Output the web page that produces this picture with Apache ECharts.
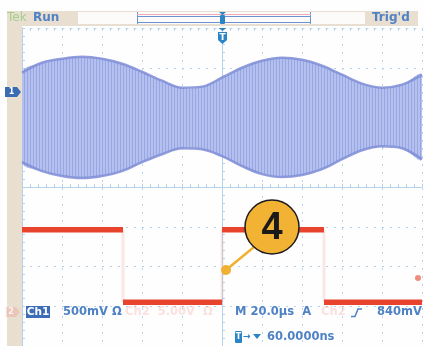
<!DOCTYPE html>
<html><head><meta charset="utf-8">
<script src="https://cdn.jsdelivr.net/npm/echarts@6/dist/echarts.min.js"></script>
<style>html,body{margin:0;padding:0;background:#fff;}#c{width:424px;height:346px;}</style>
</head><body><div id="c"></div>
<script>
// time axis (µs), 20 µs/div
const times = [-100,-90,-80,-70,-60,-50,-40,-30,-20,-10,0,10,20,30,40,50,60,70,80,90,100];
// Ch1 AM envelope (screen divisions, 0 = centre line)
const ch1Upper = [2.875,3.125,3.225,3.275,3.225,3.1,2.9,2.675,2.5,2.525,2.75,3.0,3.175,3.25,3.2,3.05,2.825,2.6,2.5,2.575,2.825];
const ch1Lower = [0.625,0.4,0.275,0.225,0.275,0.4,0.625,0.825,0.975,0.95,0.775,0.525,0.325,0.25,0.3,0.45,0.7,0.925,1.025,0.975,0.7];
// Ch2 digital signal: edges (µs) and levels (divisions)
const ch2Edges = [-100,-49.5,0,51,100];
const ch2Levels = [-1.075,-2.9,-1.075,-2.9];
// readout texts
const topLabels = ['Tek','Run',"Trig'd"];
const readout1 = ['Ch1','500mV Ω','Ch2  5.00V  Ω','M 20.0µs  A','Ch2','840mV'];
const readout2 = '60.0000ns';
const calloutNum = '4';

const chart = echarts.init(document.getElementById('c'), null, {renderer:'canvas'});
const gridC = '#b5d2ea';
const blueT = '#4f82c4';
const beige = '#e9dfd1';
const font = 'bold 11.5px "DejaVu Sans"';
const edgeC = '#7f8dd6';

const pc = document.createElement('canvas');
pc.width = 3; pc.height = 4;
const g = pc.getContext('2d');
g.fillStyle = '#b4c1ee'; g.fillRect(0,0,3,4);
g.fillStyle = '#98a7e4'; g.fillRect(0,0,1,4);

function ax(extra){
  return Object.assign({type:'value', axisLabel:{show:false}, splitLine:{show:false},
    axisLine:{show:true, lineStyle:{color:gridC, width:1}},
    axisTick:{show:true, length:3, lineStyle:{color:gridC}},
    minorTick:{show:true, splitNumber:5, length:3, lineStyle:{color:gridC}}}, extra);
}
const xBase = {min:-100, max:100, interval:20};
const yBase = {min:-4, max:4, interval:1};

const bandData = times.map((t,i)=>[t, ch1Upper[i], ch1Lower[i]]);
const series = [];
series.push({type:'custom', z:2, clip:true, silent:true,
  data: bandData,
  renderItem: function(params, api){
    if (params.dataIndex !== 0) return null;
    const up = bandData.map(d=>api.coord([d[0], d[1]]));
    const lo = bandData.map(d=>api.coord([d[0], d[2]])).reverse();
    return {type:'polygon', shape:{points: up.concat(lo), smooth:0.35},
      style:{fill:{image:pc, repeat:'repeat'}}};
  }
});
series.push({type:'line', smooth:0.35, symbol:'none', z:3,
  data: times.map((t,i)=>[t, ch1Lower[i]]),
  lineStyle:{color:edgeC, width:2.5, opacity:0.85}});
series.push({type:'line', smooth:0.35, symbol:'none', z:3,
  data: times.map((t,i)=>[t, ch1Upper[i]]),
  lineStyle:{color:edgeC, width:2.5, opacity:0.85}});
for (let j=1;j<ch2Edges.length-1;j++){
  series.push({type:'line', symbol:'none', z:4, silent:true,
    data:[[ch2Edges[j], ch2Levels[j-1]],[ch2Edges[j], ch2Levels[j]]],
    lineStyle:{color:'rgba(240,150,140,0.22)', width:3}});
}
for (let i=0;i<ch2Levels.length;i++){
  series.push({type:'line', symbol:'none', z:5,
    data:[[ch2Edges[i], ch2Levels[i]],[ch2Edges[i+1], ch2Levels[i]]],
    lineStyle:{color:'#e8432c', width:5.5}});
}

function txt(x,y,text,fill,f,z,align){
  return {type:'text', z:z||10, style:{x:x, y:y, text:text, fill:fill, font:f||font, textAlign:align||'left', textVerticalAlign:'middle'}};
}

const graphic = [
  {type:'rect', z:1, shape:{x:7,y:11,width:411,height:15}, style:{fill:beige}},
  {type:'rect', z:1, shape:{x:7,y:11,width:15,height:335}, style:{fill:beige}},
  {type:'rect', z:2, shape:{x:78,y:12,width:287,height:12}, style:{fill:'#fcfbfa'}},
  {type:'line', z:3, shape:{x1:137.5,y1:12,x2:137.5,y2:24}, style:{stroke:'#6a93d0',lineWidth:1}},
  {type:'line', z:3, shape:{x1:310.5,y1:12,x2:310.5,y2:24}, style:{stroke:'#6a93d0',lineWidth:1}},
  {type:'line', z:3, shape:{x1:137,y1:14.5,x2:311,y2:14.5}, style:{stroke:'#f2a8b8',lineWidth:1}},
  {type:'line', z:3, shape:{x1:137,y1:16.5,x2:311,y2:16.5}, style:{stroke:'#6a93d0',lineWidth:1}},
  {type:'line', z:3, shape:{x1:137,y1:22.5,x2:311,y2:22.5}, style:{stroke:'#6a93d0',lineWidth:1}},
  {type:'polygon', z:4, shape:{points:[[219,12],[226,12],[222.5,15]]}, style:{fill:'#2a84c6'}},
  {type:'rect', z:4, shape:{x:220,y:15,width:5,height:9,r:1}, style:{fill:'#2a84c6'}},
  txt(7,18,topLabels[0],'#a3cf8a','12px "DejaVu Sans"'),
  txt(33,18,topLabels[1],blueT,'bold 12px "DejaVu Sans"'),
  txt(372,18,topLabels[2],blueT,'bold 12px "DejaVu Sans"'),
  {type:'polygon', z:10, shape:{points:[[218.5,28],[226.5,28],[222.5,31]]}, style:{fill:'#2a84c6'}},
  {type:'polygon', z:10, shape:{points:[[218,32],[227,32],[227,40],[222.5,44],[218,40]]}, style:{fill:'#2a84c6'}},
  txt(222.5,37.5,'T','#fff','bold 9px "DejaVu Sans"',11,'center'),
  {type:'polygon', z:10, shape:{points:[[5,87],[17,87],[21,92],[17,97],[5,97]]}, style:{fill:'#3a6cb5'}},
  txt(11.5,92,'1','#fff','bold 8px "DejaVu Sans"',11,'center'),
  {type:'polygon', z:10, shape:{points:[[6,307],[16,307],[20,312],[16,317],[6,317]]}, style:{fill:'rgba(240,140,130,0.3)'}},
  txt(11,312,'2','rgba(255,255,255,0.8)','bold 8px "DejaVu Sans"',11,'center'),
  {type:'rect', z:10, shape:{x:26,y:306,width:24,height:12}, style:{fill:'#3d6db7'}},
  txt(38,312,readout1[0],'#fff','bold 10.5px "DejaVu Sans"',11,'center'),
  txt(63,312,readout1[1],blueT),
  txt(125,312,readout1[2],'rgba(238,120,110,0.22)',font,1),
  txt(235,312,readout1[3],blueT),
  txt(321,312,readout1[4],'rgba(238,120,110,0.22)',font,1),
  {type:'polyline', z:10, shape:{points:[[351,316.5],[355,316.5],[358,309],[362,309]]}, style:{stroke:blueT,lineWidth:1.5,fill:null}},
  txt(377,312,readout1[5],blueT),
  {type:'rect', z:10, shape:{x:235,y:331,width:7,height:12,r:1}, style:{fill:'#2a84c6'}},
  txt(238.5,337,'T','#fff','bold 8px "DejaVu Sans"',11,'center'),
  txt(243,337,'→','#2a84c6','bold 9px "DejaVu Sans"'),
  {type:'polygon', z:10, shape:{points:[[253,334],[261,334],[257,339]]}, style:{fill:'#2a84c6'}},
  txt(267,337,readout2,blueT),
  {type:'circle', z:10, shape:{cx:418,cy:278,r:3}, style:{fill:'rgba(232,80,60,0.65)'}},
  {type:'line', z:100, shape:{x1:226,y1:270,x2:254,y2:247}, style:{stroke:'#f0b030',lineWidth:2.5}},
  {type:'circle', z:100, shape:{cx:226,cy:270,r:5}, style:{fill:'#f0b030'}},
  {type:'circle', z:101, shape:{cx:272,cy:227,r:27}, style:{fill:'#f2b233',stroke:'#1d1d1d',lineWidth:1.5}},
  txt(272,229,calloutNum,'#1a1a1a','bold 38px "Liberation Sans"',102,'center')
];

chart.setOption({
  animation:false,
  backgroundColor:'#fefefe',
  grid:{left:22, top:28, width:400, height:320, containLabel:false},
  xAxis:[
    ax(Object.assign({}, xBase, {axisLine:{show:true,onZero:true,onZeroAxisIndex:0,lineStyle:{color:gridC}}, axisTick:{show:true,inside:true,length:3,lineStyle:{color:gridC}},
      splitLine:{show:true, lineStyle:{color:gridC, width:1, type:[2,6]}}})),
    ax(Object.assign({}, xBase, {axisLine:{show:false,onZero:true,onZeroAxisIndex:0}, axisTick:{show:true,inside:false,length:3,lineStyle:{color:gridC}}})),
    ax(Object.assign({}, xBase, {position:'top', axisLine:{show:true,onZero:false,lineStyle:{color:gridC,type:[2,6]}}, axisTick:{show:true,inside:true,length:3,lineStyle:{color:gridC}}}))
  ],
  yAxis:[
    ax(Object.assign({}, yBase, {axisLine:{show:true,onZero:true,onZeroAxisIndex:0,lineStyle:{color:gridC}}, axisTick:{show:true,inside:true,length:3,lineStyle:{color:gridC}},
      splitLine:{show:true, lineStyle:{color:gridC, width:1, type:[2,6]}}})),
    ax(Object.assign({}, yBase, {axisLine:{show:false,onZero:true,onZeroAxisIndex:0}, axisTick:{show:true,inside:false,length:3,lineStyle:{color:gridC}}})),
    ax(Object.assign({}, yBase, {position:'left', axisLine:{show:true,onZero:false,lineStyle:{color:gridC}}, axisTick:{show:true,inside:true,length:3,lineStyle:{color:gridC}}}))
  ],
  series: series,
  graphic: graphic
});
</script></body></html>
